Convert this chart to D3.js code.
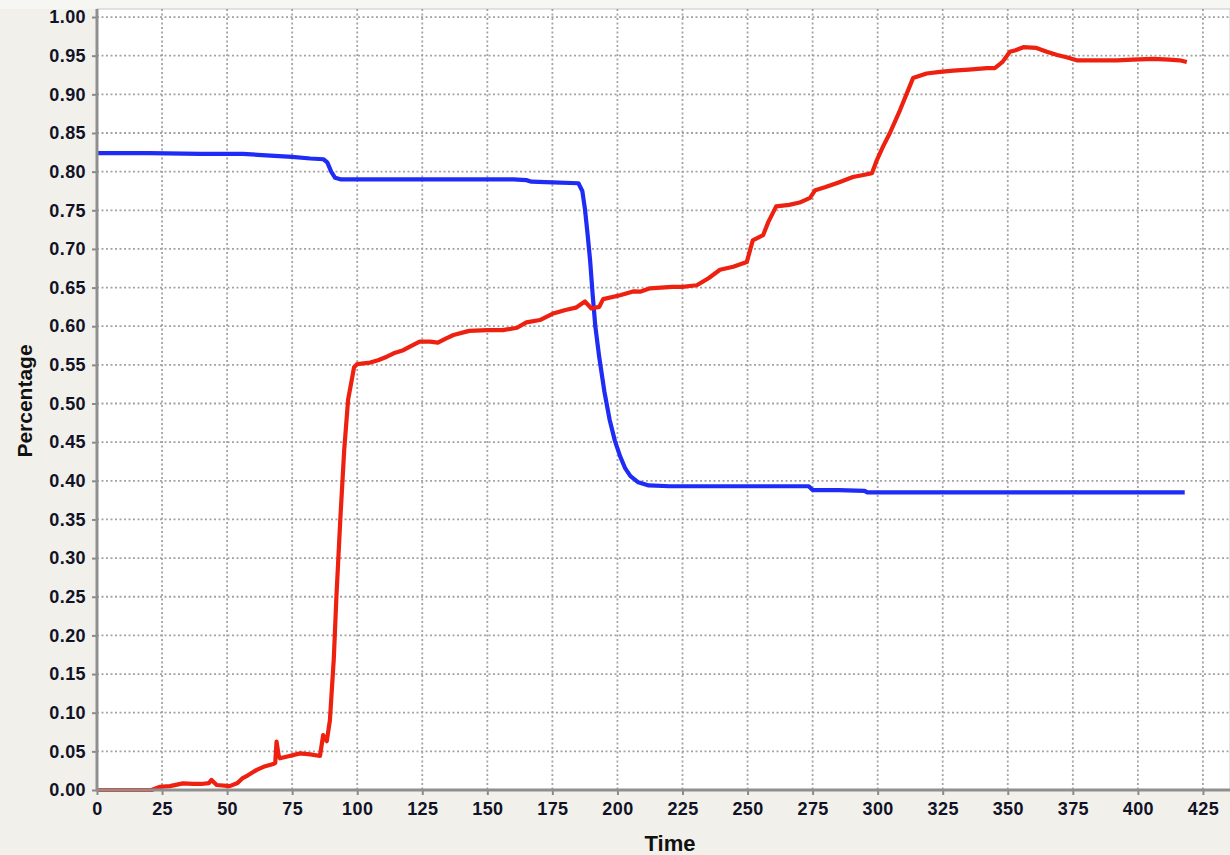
<!DOCTYPE html>
<html>
<head>
<meta charset="utf-8">
<script src="https://cdn.jsdelivr.net/npm/d3@7"></script>
<style>
  body { margin: 0; background: #f1f0eb; }
  svg { display: block; }
  .tick text { font-family: "Liberation Sans", Arial, sans-serif; font-weight: bold; font-size: 18px; letter-spacing: 0.4px; fill: #121226; }
</style>
</head>
<body>
<svg id="chart" width="1230" height="855"></svg>
<script>
// time / value pairs
const blue_t = [0, 20, 40, 56, 65, 75, 82, 87, 88.5, 90, 91.5, 93.5, 110, 140, 160, 165, 167, 175, 185, 186.5, 187.5, 188.5, 189.5, 190.5, 191.5, 193, 195, 197, 199, 201, 203, 205, 208, 212, 220, 250, 273.5, 275, 285, 295, 296, 330, 370, 418];
const blue_v = [0.824, 0.824, 0.823, 0.823, 0.821, 0.819, 0.817, 0.816, 0.812, 0.800, 0.792, 0.790, 0.790, 0.790, 0.790, 0.789, 0.787, 0.786, 0.785, 0.775, 0.752, 0.72, 0.685, 0.64, 0.60, 0.56, 0.515, 0.479, 0.452, 0.432, 0.416, 0.406, 0.398, 0.394, 0.393, 0.393, 0.393, 0.388, 0.388, 0.387, 0.385, 0.385, 0.385, 0.385];

const red_t = [0, 21, 24, 28, 33, 37, 40, 43, 44, 46, 51, 54, 56, 58, 61.4, 64, 67.7, 68.5, 69, 69.8, 70.3, 74, 78, 82, 85.7, 86.9, 88.3, 89.5, 91, 92, 93.5, 95, 96.5, 98.8, 100, 105, 108, 111.4, 114, 117.7, 121, 124, 128, 131, 134, 137, 143, 150, 156, 161.4, 165, 170.2, 175, 180, 184, 187.5, 190, 193, 194.5, 201, 206, 208.7, 212.5, 221, 225, 230.5, 235, 239.4, 244.5, 249.7, 252, 256, 258, 261, 266, 270, 274, 276, 280, 285, 290.5, 295, 297.8, 299.7, 302, 304.7, 308.6, 313.6, 318.8, 324, 329, 335, 342, 345, 348, 350.8, 353, 356, 361, 365, 369, 372.6, 376.5, 385, 392, 398, 406, 412, 416, 418.8];
const red_v = [0, 0, 0.004, 0.005, 0.0086, 0.008, 0.0078, 0.009, 0.013, 0.0065, 0.005, 0.009, 0.0155, 0.019, 0.026, 0.03, 0.0336, 0.035, 0.0625, 0.045, 0.041, 0.044, 0.0474, 0.046, 0.044, 0.071, 0.063, 0.09, 0.17, 0.25, 0.35, 0.44, 0.505, 0.547, 0.551, 0.553, 0.556, 0.5606, 0.565, 0.569, 0.575, 0.580, 0.58, 0.5787, 0.584, 0.5886, 0.594, 0.595, 0.595, 0.598, 0.605, 0.608, 0.616, 0.621, 0.624, 0.632, 0.623, 0.625, 0.635, 0.640, 0.645, 0.6447, 0.649, 0.651, 0.651, 0.653, 0.662, 0.673, 0.677, 0.683, 0.711, 0.718, 0.735, 0.755, 0.757, 0.76, 0.766, 0.776, 0.780, 0.786, 0.793, 0.796, 0.798, 0.815, 0.832, 0.85, 0.8797, 0.921, 0.927, 0.929, 0.9306, 0.932, 0.934, 0.934, 0.942, 0.955, 0.957, 0.961, 0.96, 0.955, 0.951, 0.948, 0.944, 0.944, 0.944, 0.9448, 0.946, 0.945, 0.944, 0.9418];

const x_ticks = d3.range(0, 426, 25);
const y_ticks = d3.range(0, 21).map(i => i * 0.05);

const margin = {left: 97, top: 9, right: 0, bottom: 65};
const W = 1230, H = 855;

var svg = d3.select("#chart");

var x = d3.scaleLinear().domain([0, 435.4]).range([margin.left, W]);
var y = d3.scaleLinear().domain([0, 1.0104]).range([H - margin.bottom, margin.top]);

// light band at the very top
svg.append("rect").attr("x", 0).attr("y", 0).attr("width", W).attr("height", margin.top)
    .attr("fill", "#f6f6f3");

// plot area
svg.append("rect")
    .attr("x", margin.left).attr("y", margin.top)
    .attr("width", W - margin.left).attr("height", H - margin.bottom - margin.top)
    .attr("fill", "#ffffff")
    .attr("stroke", "#c8c8c8").attr("stroke-width", 1);

// grid
var grid = svg.append("g");
grid.selectAll("line.h")
    .data(y_ticks.slice(1))
    .enter().append("line")
    .attr("x1", margin.left).attr("x2", W)
    .attr("y1", d => y(d)).attr("y2", d => y(d))
    .attr("stroke", "#a3a3a3").attr("stroke-width", 1.8)
    .attr("stroke-dasharray", "2,2.5");
grid.selectAll("line.v")
    .data(x_ticks.slice(1))
    .enter().append("line")
    .attr("y1", margin.top).attr("y2", H - margin.bottom)
    .attr("x1", d => x(d)).attr("x2", d => x(d))
    .attr("stroke", "#a3a3a3").attr("stroke-width", 1.8)
    .attr("stroke-dasharray", "2,2.5");

// series
var line = d3.line().x(d => x(d[0])).y(d => y(d[1]));
svg.append("path")
    .datum(d3.zip(blue_t, blue_v))
    .attr("d", line)
    .attr("fill", "none").attr("stroke", "#1f2cf5").attr("stroke-width", 4.2)
    .attr("stroke-linejoin", "round");
svg.append("path")
    .datum(d3.zip(red_t, red_v))
    .attr("d", line)
    .attr("fill", "none").attr("stroke", "#ee2010").attr("stroke-width", 4.2)
    .attr("stroke-linejoin", "round");

// axes
var xAxis = svg.append("g")
    .attr("transform", "translate(0," + (H - margin.bottom) + ")")
    .call(d3.axisBottom(x).tickValues(x_ticks).tickFormat(d3.format("d")).tickSize(5).tickPadding(7));
var yAxis = svg.append("g")
    .attr("transform", "translate(" + margin.left + ",0)")
    .call(d3.axisLeft(y).tickValues(y_ticks).tickFormat(d3.format(".2f")).tickSize(5).tickPadding(6));

[xAxis, yAxis].forEach(a => {
    a.select(".domain").remove();
    a.selectAll(".tick line").attr("stroke", "#8a8a8a").attr("stroke-width", 2);
});

svg.append("line")
    .attr("x1", margin.left).attr("x2", W)
    .attr("y1", H - margin.bottom).attr("y2", H - margin.bottom)
    .attr("stroke", "#8f8f8f").attr("stroke-width", 3);
svg.append("line")
    .attr("x1", margin.left).attr("x2", margin.left)
    .attr("y1", margin.top).attr("y2", H - margin.bottom + 1.5)
    .attr("stroke", "#8f8f8f").attr("stroke-width", 3);

// axis titles
svg.append("text")
    .attr("x", 670).attr("y", 851)
    .attr("text-anchor", "middle")
    .style("font-family", "Liberation Sans, Arial, sans-serif")
    .style("font-weight", "bold").style("font-size", "22px")
    .attr("fill", "#111")
    .text("Time");
svg.append("text")
    .attr("transform", "translate(32,401) rotate(-90)")
    .attr("text-anchor", "middle")
    .style("font-family", "Liberation Sans, Arial, sans-serif")
    .style("font-weight", "bold").style("font-size", "21px")
    .attr("fill", "#111")
    .text("Percentage");
</script>
</body>
</html>
